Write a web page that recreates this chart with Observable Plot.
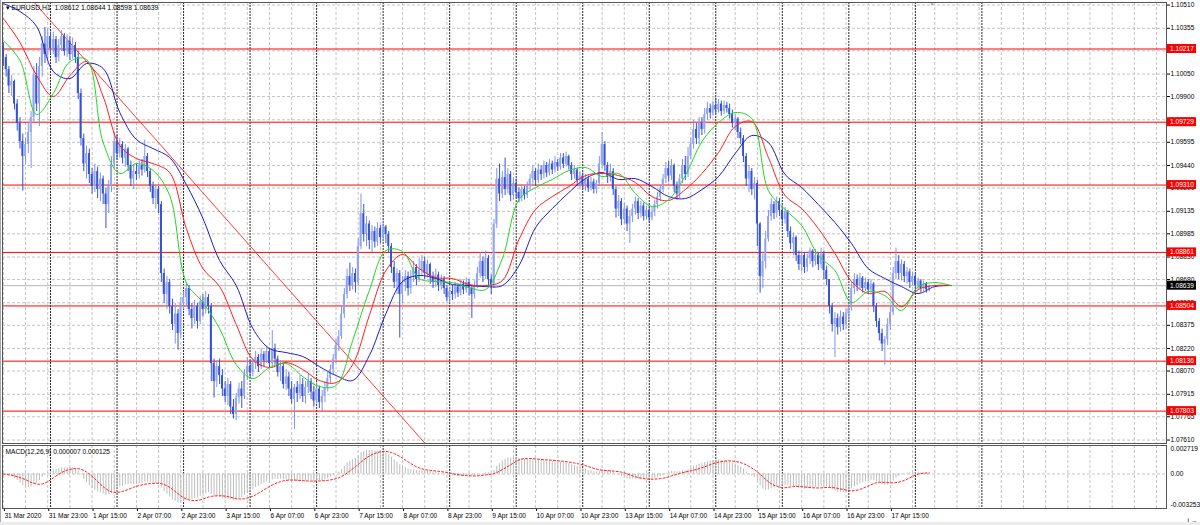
<!DOCTYPE html>
<html><head><meta charset="utf-8">
<script src="https://cdn.jsdelivr.net/npm/d3@7"></script>
<script src="https://cdn.jsdelivr.net/npm/@observablehq/plot@0.6"></script>
<style>
body{margin:0;background:#fff;width:1200px;height:525px;overflow:hidden;font-family:"Liberation Sans",Arial,sans-serif;}
#wrap{position:relative;width:1200px;height:525px;}
#main{position:absolute;left:0;top:0}
#macd{position:absolute;left:0;top:443px}
#bot{position:absolute;left:0;top:522px;width:1200px;height:3px;background:#ececec}
#lft{position:absolute;left:0;top:0;width:1px;height:522px;background:#a8a8a8}
</style></head>
<body><div id="wrap"><div id="main"></div><div id="macd"></div><div id="bot"></div><div id="lft"></div></div>
<script>
// ---------- data ----------
const symbolTitle = "\u25BE EURUSD,H1  1.08612 1.08644 1.08598 1.08639";
const macdTitle = "MACD(12,26,9) 0.000007 0.000125";
const xLabels = ["31 Mar 2020","31 Mar 23:00","1 Apr 15:00","2 Apr 07:00","2 Apr 23:00","3 Apr 15:00","6 Apr 07:00","6 Apr 23:00","7 Apr 15:00","8 Apr 07:00","8 Apr 23:00","9 Apr 15:00","10 Apr 07:00","10 Apr 23:00","13 Apr 15:00","14 Apr 07:00","14 Apr 23:00","15 Apr 15:00","16 Apr 07:00","16 Apr 23:00","17 Apr 15:00"];
const xLabelBars = [0,16,32,48,64,80,96,112,128,144,160,176,192,208,224,240,256,272,288,304,320];
const priceTicks = [1.10510,1.10355,1.10205,1.10050,1.09900,1.09745,1.09595,1.09440,1.09290,1.09135,1.08985,1.08830,1.08680,1.08525,1.08375,1.08220,1.08070,1.07915,1.07765,1.07610];
const levels = [1.10217,1.09729,1.09310,1.08861,1.08504,1.08136,1.07803];
const lastPrice = 1.08639;
const macdTicks = [0.002719, 0, -0.003253];
const firstOpen = 1.1023;
const close = [1.1016,1.1008,1.0997,1.1000,1.0985,1.0972,1.0960,1.0950,1.0958,1.0966,
1.0976,1.1004,1.0985,1.1010,1.1025,1.1018,1.1030,1.1022,1.1028,1.1016,
1.1024,1.1030,1.1020,1.1027,1.1018,1.1024,1.1016,1.0992,1.0962,1.0945,
1.0952,1.0938,1.0930,1.0940,1.0928,1.0935,1.0925,1.0918,1.0930,1.0945,
1.0960,1.0952,1.0958,1.0949,1.0955,1.0944,1.0935,1.0940,1.0938,1.0944,
1.0941,1.0950,1.0940,1.0930,1.0922,1.0928,1.0918,1.0872,1.0858,1.0866,
1.0850,1.0838,1.0845,1.0832,1.0852,1.0856,1.0862,1.0848,1.0842,1.0850,
1.0840,1.0853,1.0848,1.0856,1.0850,1.0812,1.0800,1.0810,1.0804,1.0795,
1.0790,1.0798,1.0783,1.0778,1.0789,1.0795,1.0790,1.0805,1.0810,1.0806,
1.0812,1.0816,1.0810,1.0818,1.0814,1.0820,1.0812,1.0822,1.0815,1.0806,
1.0810,1.0798,1.0803,1.0795,1.0788,1.0796,1.0792,1.0798,1.0790,1.0796,
1.0800,1.0793,1.0787,1.0795,1.0786,1.0790,1.0796,1.0802,1.0808,1.0815,
1.0824,1.0830,1.0845,1.0858,1.0870,1.0864,1.0872,1.0866,1.0890,1.0912,
1.0898,1.0905,1.0894,1.0900,1.0893,1.0902,1.0896,1.0903,1.0898,1.0890,
1.0876,1.0866,1.0872,1.0858,1.0866,1.0870,1.0862,1.0870,1.0876,1.0868,
1.0874,1.0880,1.0872,1.0878,1.0870,1.0866,1.0871,1.0864,1.0868,1.0862,
1.0856,1.0860,1.0858,1.0863,1.0859,1.0865,1.0861,1.0866,1.0862,1.0858,
1.0864,1.0872,1.0880,1.0870,1.0882,1.0868,1.0864,1.0905,1.0935,1.0925,
1.0936,1.0928,1.0938,1.0924,1.0932,1.0926,1.0922,1.0928,1.0924,1.0930,
1.0935,1.0940,1.0934,1.0941,1.0938,1.0944,1.0939,1.0945,1.0941,1.0946,
1.0943,1.0949,1.0945,1.0950,1.0944,1.0938,1.0941,1.0934,1.0937,1.0931,
1.0935,1.0929,1.0933,1.0928,1.0932,1.0945,1.0958,1.0944,1.0936,1.0940,
1.0928,1.0915,1.0920,1.0908,1.0915,1.0905,1.0910,1.0915,1.0920,1.0912,
1.0917,1.0910,1.0914,1.0909,1.0913,1.0918,1.0923,1.0928,1.0935,1.0942,
1.0937,1.0944,1.0930,1.0925,1.0935,1.0944,1.0938,1.0950,1.0958,1.0968,
1.0962,1.0972,1.0968,1.0978,1.0982,1.0979,1.0984,1.0981,1.0985,1.0980,
1.0984,1.0982,1.0978,1.0972,1.0975,1.0966,1.0962,1.0950,1.0935,1.0940,
1.0928,1.0932,1.0905,1.0870,1.0880,1.0895,1.0910,1.0918,1.0912,1.0920,
1.0914,1.0908,1.0913,1.0900,1.0892,1.0896,1.0884,1.0878,1.0884,1.0876,
1.0882,1.0887,1.0880,1.0884,1.0878,1.0885,1.0874,1.0868,1.0850,1.0838,
1.0842,1.0836,1.0843,1.0838,1.0845,1.0849,1.0862,1.0868,1.0864,1.0869,
1.0862,1.0866,1.0861,1.0865,1.0850,1.0840,1.0832,1.0825,1.0828,1.0838,
1.0846,1.0872,1.0880,1.0872,1.0878,1.0870,1.0873,1.0866,1.0870,1.0864,
1.0867,1.0862,1.0865,1.08612,1.08639];
const high = [1.1026,1.1018,1.1010,1.1004,1.1001,1.0988,1.0976,1.0965,1.0962,1.0972,
1.0980,1.1010,1.1012,1.1016,1.1030,1.1036,1.1035,1.1033,1.1033,1.1030,
1.1028,1.1034,1.1032,1.1031,1.1030,1.1029,1.1026,1.1020,1.0995,1.0965,
1.0957,1.0955,1.0942,1.0945,1.0943,1.0939,1.0937,1.0929,1.0934,1.0950,
1.0966,1.0964,1.0962,1.0960,1.0958,1.0956,1.0947,1.0944,1.0945,1.0947,
1.0948,1.0961,1.0952,1.0942,1.0933,1.0931,1.0930,1.0920,1.0875,1.0870,
1.0868,1.0855,1.0852,1.0848,1.0856,1.0860,1.0866,1.0864,1.0852,1.0854,
1.0852,1.0857,1.0858,1.0860,1.0858,1.0852,1.0815,1.0814,1.0815,1.0808,
1.0800,1.0802,1.0800,1.0788,1.0792,1.0799,1.0800,1.0808,1.0816,1.0814,
1.0815,1.0820,1.0818,1.0822,1.0820,1.0823,1.0822,1.0834,1.0825,1.0817,
1.0814,1.0812,1.0808,1.0806,1.0800,1.0798,1.0800,1.0804,1.0802,1.0800,
1.0805,1.0802,1.0797,1.0799,1.0797,1.0794,1.0800,1.0806,1.0811,1.0818,
1.0828,1.0834,1.0850,1.0862,1.0875,1.0879,1.0876,1.0875,1.0895,1.0925,
1.0918,1.0910,1.0907,1.0904,1.0903,1.0906,1.0904,1.0907,1.0904,1.0900,
1.0892,1.0880,1.0875,1.0874,1.0870,1.0874,1.0873,1.0874,1.0880,1.0878,
1.0882,1.0884,1.0883,1.0881,1.0879,1.0873,1.0875,1.0873,1.0871,1.0870,
1.0864,1.0863,1.0864,1.0866,1.0865,1.0868,1.0867,1.0869,1.0868,1.0864,
1.0867,1.0876,1.0886,1.0883,1.0887,1.0884,1.0871,1.0908,1.0942,1.0945,
1.0940,1.0949,1.0942,1.0940,1.0936,1.0935,1.0929,1.0931,1.0930,1.0933,
1.0938,1.0944,1.0942,1.0945,1.0944,1.0947,1.0946,1.0948,1.0947,1.0950,
1.0948,1.0952,1.0952,1.0953,1.0951,1.0946,1.0944,1.0942,1.0940,1.0939,
1.0938,1.0937,1.0936,1.0935,1.0934,1.0950,1.0966,1.0960,1.0946,1.0945,
1.0942,1.0930,1.0924,1.0922,1.0919,1.0917,1.0914,1.0918,1.0923,1.0922,
1.0920,1.0919,1.0917,1.0916,1.0916,1.0921,1.0926,1.0931,1.0938,1.0946,
1.0947,1.0948,1.0945,1.0933,1.0938,1.0948,1.0950,1.0956,1.0962,1.0974,
1.0972,1.0976,1.0976,1.0982,1.0986,1.0985,1.0987,1.0989,1.0988,1.0987,
1.0987,1.0986,1.0985,1.0981,1.0978,1.0976,1.0969,1.0964,1.0952,1.0944,
1.0942,1.0936,1.0934,1.0906,1.0885,1.0900,1.0914,1.0922,1.0920,1.0923,
1.0922,1.0917,1.0916,1.0914,1.0903,1.0899,1.0897,1.0887,1.0887,1.0886,
1.0885,1.0889,1.0888,1.0888,1.0886,1.0889,1.0887,1.0877,1.0868,1.0852,
1.0846,1.0845,1.0847,1.0846,1.0848,1.0852,1.0866,1.0872,1.0871,1.0872,
1.0870,1.0869,1.0868,1.0868,1.0866,1.0852,1.0842,1.0835,1.0830,1.0842,
1.0850,1.0876,1.0889,1.0884,1.0881,1.0880,1.0876,1.0875,1.0873,1.0872,
1.0869,1.0868,1.0867,1.0866,1.08644];
const low = [1.1010,1.1003,1.0992,1.0990,1.0981,1.0967,1.0955,1.0927,1.0945,1.0952,
1.0942,1.0973,1.0980,1.0970,1.1003,1.1012,1.1015,1.1018,1.1018,1.1012,
1.1013,1.1020,1.1017,1.1016,1.1014,1.1015,1.1012,1.0988,1.0957,1.0940,
1.0935,1.0932,1.0925,1.0926,1.0922,1.0920,1.0918,1.0902,1.0912,1.0926,
1.0942,1.0948,1.0949,1.0945,1.0943,1.0940,1.0930,1.0928,1.0934,1.0935,
1.0937,1.0939,1.0936,1.0926,1.0918,1.0915,1.0912,1.0866,1.0852,1.0848,
1.0845,1.0834,1.0825,1.0821,1.0829,1.0848,1.0850,1.0844,1.0835,1.0838,
1.0835,1.0838,1.0843,1.0845,1.0845,1.0800,1.0789,1.0796,1.0798,1.0790,
1.0786,1.0784,1.0778,1.0775,1.0774,1.0785,1.0782,1.0788,1.0801,1.0802,
1.0803,1.0808,1.0806,1.0808,1.0810,1.0812,1.0809,1.0810,1.0811,1.0803,
1.0800,1.0795,1.0794,1.0790,1.0785,1.0768,1.0786,1.0788,1.0786,1.0785,
1.0792,1.0788,1.0783,1.0785,1.0782,1.0780,1.0786,1.0793,1.0799,1.0804,
1.0812,1.0820,1.0828,1.0842,1.0855,1.0860,1.0861,1.0859,1.0864,1.0888,
1.0893,1.0890,1.0888,1.0886,1.0889,1.0890,1.0892,1.0893,1.0892,1.0886,
1.0872,1.0862,1.0858,1.0829,1.0852,1.0860,1.0857,1.0858,1.0866,1.0864,
1.0866,1.0870,1.0868,1.0869,1.0865,1.0862,1.0863,1.0860,1.0861,1.0858,
1.0853,1.0852,1.0854,1.0855,1.0856,1.0857,1.0858,1.0859,1.0857,1.0842,
1.0855,1.0862,1.0869,1.0866,1.0868,1.0864,1.0858,1.0862,1.0902,1.0920,
1.0922,1.0924,1.0925,1.0920,1.0921,1.0922,1.0919,1.0920,1.0921,1.0922,
1.0927,1.0931,1.0930,1.0932,1.0934,1.0935,1.0936,1.0937,1.0938,1.0939,
1.0940,1.0941,1.0942,1.0943,1.0941,1.0934,1.0935,1.0930,1.0929,1.0928,
1.0927,1.0926,1.0927,1.0925,1.0925,1.0930,1.0942,1.0940,1.0932,1.0933,
1.0924,1.0909,1.0910,1.0904,1.0905,1.0900,1.0892,1.0906,1.0911,1.0908,
1.0909,1.0907,1.0908,1.0906,1.0907,1.0910,1.0915,1.0920,1.0926,1.0932,
1.0933,1.0934,1.0926,1.0921,1.0922,1.0932,1.0934,1.0936,1.0948,1.0955,
1.0958,1.0958,1.0964,1.0965,1.0974,1.0975,1.0977,1.0978,1.0979,1.0977,
1.0978,1.0979,1.0975,1.0969,1.0967,1.0962,1.0958,1.0946,1.0930,1.0926,
1.0924,1.0921,1.0890,1.0859,1.0862,1.0875,1.0893,1.0907,1.0908,1.0909,
1.0910,1.0904,1.0905,1.0896,1.0888,1.0884,1.0880,1.0874,1.0873,1.0872,
1.0873,1.0878,1.0876,1.0877,1.0874,1.0875,1.0868,1.0864,1.0845,1.0833,
1.0816,1.0831,1.0833,1.0834,1.0835,1.0840,1.0847,1.0858,1.0860,1.0861,
1.0859,1.0860,1.0858,1.0859,1.0846,1.0836,1.0827,1.0820,1.0811,1.0824,
1.0834,1.0844,1.0868,1.0868,1.0867,1.0866,1.0865,1.0862,1.0864,1.0861,
1.0861,1.0859,1.0860,1.0859,1.08598];
// moving averages, every 6 bars
const maBar = [0,6,12,18,24,30,36,42,48,54,60,66,72,78,84,90,96,102,108,114,120,126,132,138,144,150,156,162,168,174,180,186,192,198,204,210,216,222,228,234,240,246,252,258,264,270,276,282,288,294,300,306,312,318,324,330,336,342];
const maBlue = [1.10520,1.10467,1.10367,1.10067,1.10020,1.10120,1.10087,1.09793,1.09613,1.09553,
1.09493,1.09313,1.09087,1.08807,1.08640,1.08353,1.08220,1.08193,1.08167,1.08100,
1.08040,1.08007,1.08173,1.08453,1.08667,1.08707,1.08687,1.08647,1.08640,1.08633,
1.08640,1.08773,1.09027,1.09153,1.09260,1.09353,1.09393,1.09347,1.09353,1.09300,
1.09233,1.09220,1.09280,1.09367,1.09520,1.09640,1.09593,1.09380,1.09293,1.09180,
1.09060,1.08920,1.08753,1.08687,1.08633,1.08587,1.08633,1.08640];
const maRed = [1.10420,1.10260,1.10040,1.09900,1.10040,1.10133,1.09900,1.09573,1.09487,1.09453,
1.09393,1.09020,1.08753,1.08633,1.08380,1.08147,1.08093,1.08127,1.08080,1.08007,
1.07993,1.08113,1.08440,1.08740,1.08847,1.08753,1.08693,1.08687,1.08647,1.08640,
1.08673,1.08947,1.09147,1.09233,1.09300,1.09373,1.09387,1.09373,1.09327,1.09233,
1.09207,1.09280,1.09387,1.09527,1.09700,1.09733,1.09493,1.09240,1.09153,1.09020,
1.08853,1.08667,1.08587,1.08600,1.08500,1.08613,1.08640,1.08640];
const maGreen = [1.10273,1.10140,1.09780,1.09920,1.10133,1.10147,1.09593,1.09387,1.09453,1.09407,
1.09240,1.08660,1.08527,1.08353,1.08113,1.08020,1.08093,1.08120,1.08033,1.07967,
1.07973,1.08273,1.08607,1.08873,1.08867,1.08687,1.08667,1.08660,1.08627,1.08613,
1.08820,1.09213,1.09293,1.09347,1.09407,1.09427,1.09367,1.09387,1.09253,1.09167,
1.09213,1.09373,1.09600,1.09727,1.09793,1.09753,1.09273,1.09147,1.09040,1.08840,
1.08740,1.08527,1.08600,1.08573,1.08473,1.08633,1.08660,1.08640];
const trendBar = [11, 152];
const trendPrice = [1.1053, 1.0759];

// ---------- build ----------
const xDomain = [-0.32, 419.6];
const gridBars = d3.range(0, 420, 8);
const sepBars = d3.range(17, 360, 24);
const bars = close.map((c, i) => {
  const o = i === 0 ? firstOpen : close[i - 1];
  return {i, open: o, close: c, high: high[i], low: low[i], up: c >= o};
});
const ma = (arr) => maBar.map((b, i) => ({b, v: arr[i]}));
const trend = trendBar.map((b, i) => ({b, p: trendPrice[i]}));

// MACD (12,26,9) from the closes
function ema(arr, n) { const k = 2 / (n + 1); let e = arr[0]; return arr.map(v => (e = v * k + e * (1 - k))); }
const e12 = ema(close, 12), e26 = ema(close, 26);
const macdMain = close.map((_, i) => e12[i] - e26[i]);
const macdSig = macdMain.map((_, i) => d3.mean(macdMain.slice(Math.max(0, i - 8), i + 1)));
const macdData = macdMain.map((m, i) => ({i, m, s: macdSig[i]}));

const FONT = "Liberation Sans, Arial, sans-serif";
const baseStyle = {fontFamily: FONT, fontSize: "6.6px", background: "transparent", overflow: "visible", color: "#000"};
const grid = {stroke: "#c4c4c4", strokeDasharray: "3,2"};
const sep = {stroke: "#2a2a2a", strokeDasharray: "2,1"};

const main = Plot.plot({
  width: 1200, height: 445,
  marginTop: 2, marginBottom: 2, marginLeft: 2, marginRight: 34,
  x: {domain: xDomain, axis: null},
  y: {domain: [1.07587, 1.10527], axis: null},
  style: baseStyle,
  marks: [
    Plot.ruleY(priceTicks, grid),
    Plot.ruleX(gridBars, grid),
    Plot.ruleX(sepBars, sep),
    Plot.ruleY(levels, {stroke: "#ff0000", strokeWidth: 1}),
    Plot.ruleY([lastPrice], {stroke: "#b4b4b4"}),
    Plot.line(trend, {x: "b", y: "p", stroke: "#ff3a3a", strokeWidth: 1, clip: true}),
    Plot.ruleX(bars, {x: "i", y1: "low", y2: "high", stroke: d => d.up ? "#7f95e8" : "#3553d4", strokeWidth: 1}),
    Plot.rect(bars, {x1: d => d.i - 0.34, x2: d => d.i + 0.34, y1: "open", y2: "close", fill: d => d.up ? "#93a5ee" : "#3553d4"}),
    Plot.line(ma(maBlue), {x: "b", y: "v", stroke: "#1c1ccc", strokeWidth: 1, curve: "catmull-rom", clip: true}),
    Plot.line(ma(maRed), {x: "b", y: "v", stroke: "#ff1e1e", strokeWidth: 1, curve: "catmull-rom", clip: true}),
    Plot.line(ma(maGreen), {x: "b", y: "v", stroke: "#22d622", strokeWidth: 1, curve: "catmull-rom", clip: true}),
    Plot.axisY(priceTicks, {anchor: "right", tickSize: 3, tickPadding: 1, tickFormat: d => d.toFixed(5), fill: "#000"}),
    Plot.frame({stroke: "#555"}),
    Plot.text([symbolTitle], {frameAnchor: "top-left", dx: 3, dy: 3, fill: "#000", fontSize: 6.8}),
    Plot.text([close.length], {x: d => d, frameAnchor: "top", text: () => "\u25BC", fill: "#aaa", fontSize: 5, dy: 0})
  ]
});
document.getElementById("main").appendChild(main);

// price-level labels on the right scale
const ys = main.scale("y");
const g = d3.select(main).append("g").attr("font-family", FONT).attr("font-size", "6.6px").attr("text-anchor", "start");
const tag = (v, bg) => {
  const y = ys.apply(v);
  g.append("rect").attr("x", 1167).attr("y", y - 4.5).attr("width", 29).attr("height", 9).attr("fill", bg);
  g.append("text").attr("x", 1170).attr("y", y).attr("dy", "0.35em").attr("text-anchor", "start").attr("fill", "#fff").text(v.toFixed(5));
};
levels.forEach(v => tag(v, "#ff0000"));
tag(lastPrice, "#000");

const macdPlot = Plot.plot({
  width: 1200, height: 82,
  marginTop: 2, marginBottom: 17, marginLeft: 2, marginRight: 34,
  x: {domain: xDomain, axis: null},
  y: {domain: [-0.003679, 0.003039], axis: null},
  style: baseStyle,
  marks: [
    Plot.ruleX(gridBars, grid),
    Plot.ruleX(sepBars, sep),
    Plot.ruleY([0], grid),
    Plot.ruleX(macdData, {x: "i", y1: 0, y2: "m", stroke: "#bdbdbd", strokeWidth: 1, clip: true}),
    Plot.line(macdData, {x: "i", y: "s", stroke: "#ff2020", strokeDasharray: "2,2", strokeWidth: 1, clip: true}),
    Plot.axisY(macdTicks, {anchor: "right", tickSize: 0, tickPadding: 4, tickFormat: d => d === 0 ? "0.00" : d.toFixed(6), fill: "#000"}),
    Plot.axisX(xLabelBars, {anchor: "bottom", tickSize: 3, tickPadding: 2, textAnchor: "start", dx: 1, tickFormat: d => xLabels[xLabelBars.indexOf(d)], fill: "#000"}),
    Plot.frame({stroke: "#555"}),
    Plot.text([macdTitle], {frameAnchor: "top-left", dx: 3, dy: 4, fill: "#000", fontSize: 6.6})
  ]
});
document.getElementById("macd").appendChild(macdPlot);
</script>
</body></html>
